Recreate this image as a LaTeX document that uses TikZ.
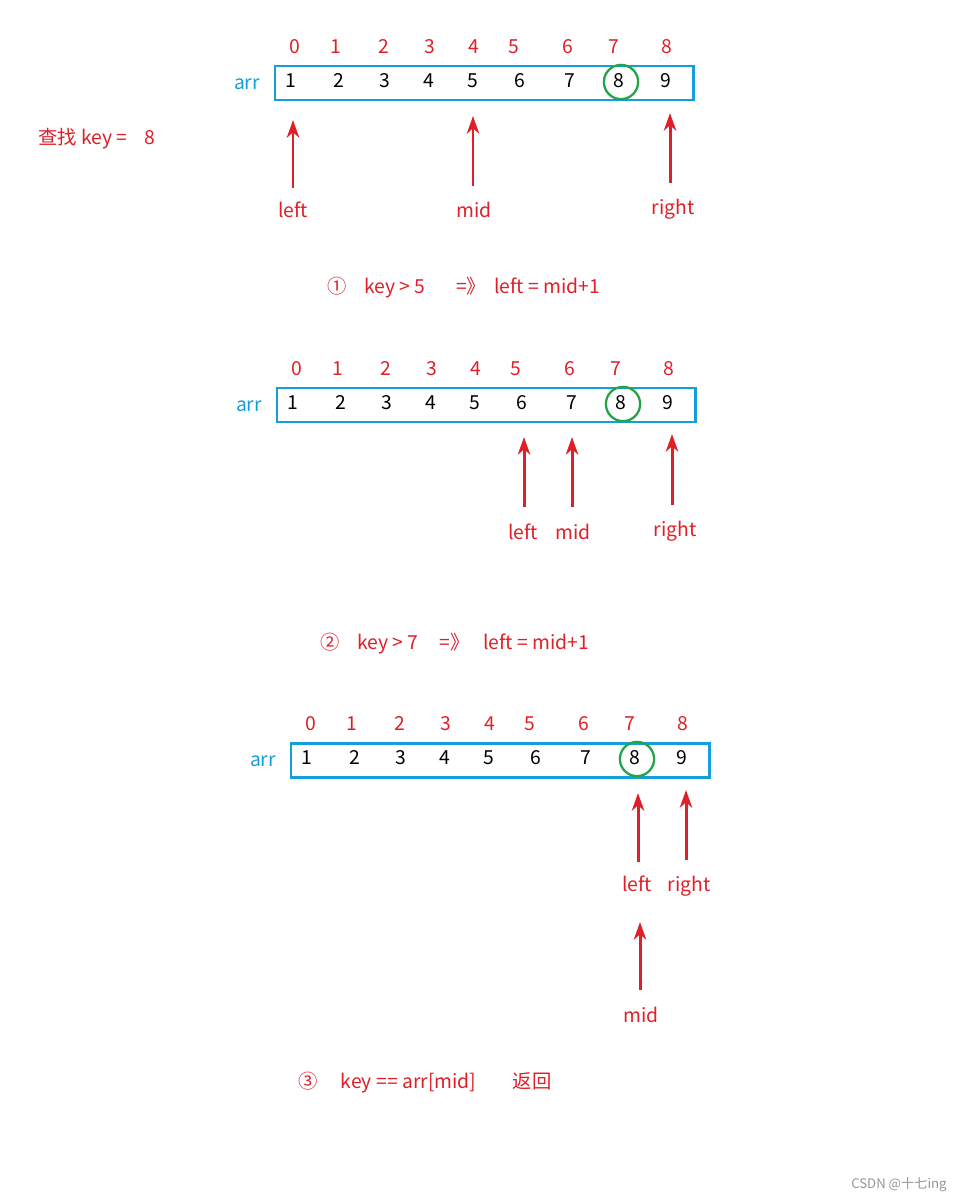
\documentclass[tikz,border=0pt]{standalone}
\usepackage{fontspec}
\setmainfont{Noto Sans CJK SC}
\usetikzlibrary{arrows.meta}
\definecolor{keyred}{RGB}{224,32,40}
\definecolor{arrblue}{RGB}{20,158,218}
\definecolor{hitgreen}{RGB}{36,164,72}
\definecolor{markgray}{RGB}{150,150,150}

\tikzset{
  txt/.style={inner sep=0pt, text height=8pt, text depth=2pt, font=\fontsize{11}{13}\selectfont},
  idx/.style={txt, text=keyred},
  cell/.style={txt, text=black},
  arrname/.style={txt, text=arrblue},
  arrbox/.style={draw=arrblue, line width=1.7pt},
  hit/.style={draw=hitgreen, line width=1.3pt, circle, minimum size=19.5pt, inner sep=0pt},
  note/.style={txt, text=keyred, anchor=west},
  ptrlbl/.style={txt, text=keyred},
  ptr/.style={draw=keyred, line width=1.7pt, -{Stealth[length=10pt, width=7pt, inset=3pt]}}
}

% one row of the array: name, x shift, y shift
\newcommand\arrrow[3]{%
  \begin{scope}[shift={(#2,#3)}]
    \node[arrname] (#1-name) at (247,84) {arr};
    \draw[arrbox] (275,66) rectangle (693,100);
    \foreach \x [count=\i from 0] in {295,336,384,430,474,514,568,614,667}
      \node[idx] (#1-i\i) at (\x,48) {\i};
    \foreach \x [count=\k] in {291,339,385,429,473,520,570,619,666}
      \node[cell] (#1-v\k) at (\x,82) {\k};
    \node[hit] (#1-hit) at (621,82) {};
  \end{scope}}

\begin{document}
\begin{tikzpicture}[x=0.02cm, y=-0.02cm]
\useasboundingbox[fill=white] (0,0) rectangle (963,1200);

% step 0
\node[note] (goal) at (38,139) {查找 key =\ \ \ \ 8};
\arrrow{a1}{0}{0}
\node[ptrlbl] (a1-left) at (293,212) {left};
\node[ptrlbl] (a1-mid) at (474,212) {mid};
\node[ptrlbl] (a1-right) at (673,209) {right};
\coordinate (a1-fl) at (293,188);
\coordinate (a1-fm) at (473,186);
\coordinate (a1-fr) at (670,183);
\coordinate (a1-tl) at (293,120);
\coordinate (a1-tm) at (473,116);
\coordinate (a1-tr) at (670,113);
\draw[ptr] (a1-fl) -- (a1-tl);
\draw[ptr] (a1-fm) -- (a1-tm);
\draw[ptr] (a1-fr) -- (a1-tr);

% step 1
\node[note] (s1) at (327,288) {①\hspace{0.9em}key > 5\hspace{1.6em}=》\hspace{0.4em}left = mid+1};
\arrrow{a2}{2}{322}
\node[ptrlbl] (a2-left) at (523,534) {left};
\node[ptrlbl] (a2-mid) at (573,534) {mid};
\node[ptrlbl] (a2-right) at (675,531) {right};
\coordinate (a2-fl) at (524,507);
\coordinate (a2-fm) at (572,507);
\coordinate (a2-fr) at (672,505);
\coordinate (a2-tl) at (524,437);
\coordinate (a2-tm) at (572,437);
\coordinate (a2-tr) at (672,434);
\draw[ptr] (a2-fl) -- (a2-tl);
\draw[ptr] (a2-fm) -- (a2-tm);
\draw[ptr] (a2-fr) -- (a2-tr);

% step 2
\node[note] (s2) at (320,644) {②\hspace{0.9em}key > 7\hspace{1.1em}=》\hspace{0.7em}left = mid+1};
\arrrow{a3}{16}{677}
\node[ptrlbl] (a3-left) at (637,886) {left};
\node[ptrlbl] (a3-right) at (689,886) {right};
\node[ptrlbl] (a3-mid) at (641,1017) {mid};
\coordinate (a3-fl) at (638,862);
\coordinate (a3-fr) at (686,860);
\coordinate (a3-fm) at (640,990);
\coordinate (a3-tl) at (638,793);
\coordinate (a3-tr) at (686,790);
\coordinate (a3-tm) at (640,922);
\draw[ptr] (a3-fl) -- (a3-tl);
\draw[ptr] (a3-fr) -- (a3-tr);
\draw[ptr] (a3-fm) -- (a3-tm);

% step 3
\node[note] (s3) at (298,1083) {③\hspace{1.2em}key == arr[mid]\hspace{1.9em}返回};

\node[txt, text=markgray, anchor=east, font=\fontsize{7.5}{9}\selectfont] (mark) at (947,1183) {CSDN @十七ing};
\end{tikzpicture}
\end{document}
